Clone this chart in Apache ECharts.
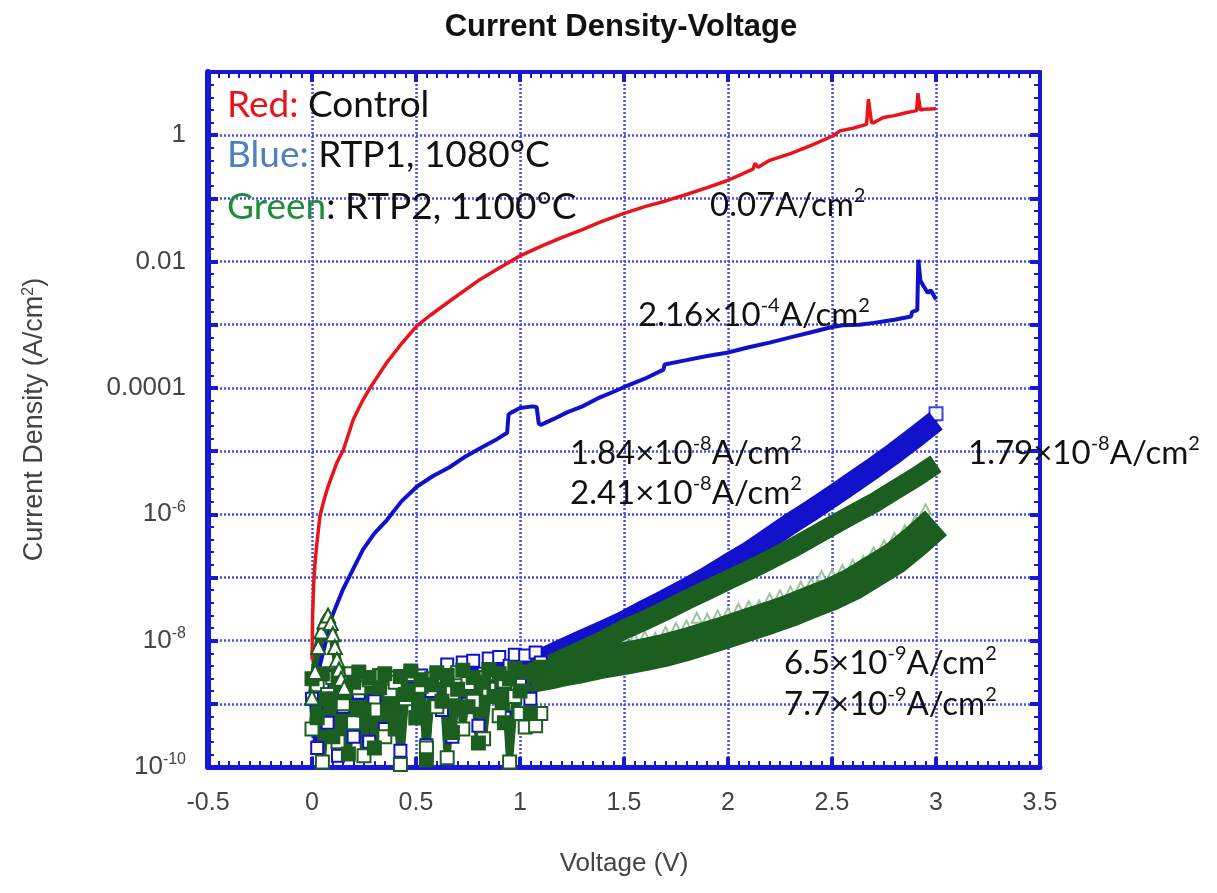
<!DOCTYPE html>
<html>
<head>
<meta charset="utf-8">
<script src="https://cdn.jsdelivr.net/npm/echarts@6/dist/echarts.min.js"></script>
<style>
  html, body { margin: 0; padding: 0; background: #ffffff; }
  #chart { width: 1217px; height: 893px; }
</style>
</head>
<body>
<div id="chart"></div>
<script>
// ---------- measured data (V in volts, J in A/cm^2) ----------

// Control sample, continuous trace
const controlV = [0, 0.003, 0.008, 0.014, 0.022, 0.038, 0.058, 0.078, 0.1, 0.119, 0.151, 0.199, 0.24, 0.279, 0.32, 0.359, 0.43, 0.503, 0.567, 0.679, 0.8, 0.9, 1.0, 1.1, 1.2, 1.3, 1.385, 1.5, 1.6, 1.7, 1.8, 1.9, 1.994, 2.07, 2.12, 2.13, 2.145, 2.2, 2.3, 2.4, 2.506, 2.538, 2.6, 2.666, 2.675, 2.68, 2.69, 2.7, 2.747, 2.8, 2.85, 2.907, 2.913, 2.918, 2.925, 2.94, 3.0];
const controlJ = [5.0e-9, 2.5e-8, 7.9e-8, 1.6e-7, 3.1e-7, 9.3e-7, 1.7e-6, 2.8e-6, 4.4e-6, 6.5e-6, 1.05e-5, 3.2e-5, 6.0e-5, 1.0e-4, 1.6e-4, 2.5e-4, 5.0e-4, 9.5e-4, 1.4e-3, 2.6e-3, 5.0e-3, 7.9e-3, 0.0123, 0.0174, 0.024, 0.032, 0.042, 0.058, 0.074, 0.091, 0.115, 0.148, 0.19, 0.245, 0.29, 0.36, 0.31, 0.40, 0.51, 0.69, 0.98, 1.17, 1.29, 1.48, 3.7, 3.8, 1.58, 1.58, 1.9, 2.04, 2.24, 2.45, 4.6, 4.8, 2.5, 2.57, 2.63];

// RTP1 (1080 °C), continuous trace
const rtp1LineV = [0.03, 0.06, 0.096, 0.149, 0.2, 0.245, 0.3, 0.36, 0.43, 0.505, 0.58, 0.663, 0.74, 0.822, 0.88, 0.938, 0.945, 0.96, 1.0, 1.06, 1.08, 1.09, 1.1, 1.16, 1.226, 1.3, 1.385, 1.45, 1.52, 1.6, 1.69, 1.695, 1.8, 1.9, 1.995, 2.1, 2.2, 2.3, 2.4, 2.495, 2.55, 2.63, 2.7, 2.8, 2.88, 2.885, 2.91, 2.915, 2.925, 2.94, 2.96, 2.975, 3.0];
const rtp1LineJ = [3.2e-9, 7.9e-9, 2.4e-8, 6.5e-8, 1.4e-7, 2.75e-7, 5.0e-7, 8.1e-7, 1.6e-6, 2.75e-6, 4.0e-6, 5.6e-6, 8.3e-6, 1.17e-5, 1.48e-5, 1.95e-5, 3.8e-5, 4.1e-5, 4.8e-5, 5.1e-5, 5.0e-5, 2.75e-5, 2.6e-5, 3.2e-5, 4.1e-5, 5.1e-5, 7.1e-5, 8.7e-5, 1.1e-4, 1.4e-4, 1.95e-4, 2.35e-4, 2.75e-4, 3.2e-4, 3.6e-4, 4.4e-4, 5.2e-4, 6.3e-4, 7.6e-4, 9.1e-4, 9.8e-4, 1.0e-3, 1.07e-3, 1.2e-3, 1.35e-3, 1.6e-3, 1.7e-3, 1.07e-2, 5.0e-3, 4.1e-3, 3.2e-3, 3.5e-3, 2.5e-3];

// Low-bias sweep voltages (noise floor region)
const lowV = [0, 0.025, 0.05, 0.075, 0.1, 0.125, 0.15, 0.175, 0.2, 0.225, 0.25, 0.275, 0.3, 0.325, 0.35, 0.375, 0.4, 0.425, 0.45, 0.475, 0.5, 0.525, 0.55, 0.575, 0.6, 0.625, 0.65, 0.675, 0.7, 0.725, 0.75, 0.775, 0.8, 0.825, 0.85, 0.875, 0.9, 0.925, 0.95, 0.975, 1.0, 1.025, 1.05, 1.075, 1.1];
const rtp1LowJ = [1.2e-9, 2e-10, 2.0e-9, 5e-10, 2.8e-9, 1.5e-10, 9e-10, 2.2e-9, 3e-10, 1.5e-9, 2.6e-9, 2.5e-10, 1.1e-9, 2.5e-9, 4e-10, 1.8e-9, 2.6e-9, 1.8e-10, 1.4e-9, 2.7e-9, 6e-10, 2.8e-9, 2.2e-10, 1.6e-9, 3.0e-9, 8e-10, 4.2e-9, 3e-10, 2.4e-9, 4.5e-9, 1.0e-9, 4.8e-9, 4.5e-10, 3.0e-9, 5.2e-9, 1.4e-9, 5.5e-9, 6e-10, 4.0e-9, 6.0e-9, 2.0e-9, 5.8e-9, 1.2e-9, 6.5e-9, 4.5e-9];
const rtp2aLowJ = [2.5e-9, 6e-10, 3.0e-9, 1.2e-9, 3e-10, 2.8e-9, 1.5e-9, 1.6e-10, 2.2e-9, 3.2e-9, 8e-10, 2.6e-9, 2e-10, 1.8e-9, 3.0e-9, 1.0e-9, 4e-10, 2.7e-9, 1.4e-9, 3.3e-9, 6e-10, 2.4e-9, 1.3e-10, 2.0e-9, 3.1e-9, 1.1e-9, 2.8e-9, 3.5e-10, 1.7e-9, 3.4e-9, 9e-10, 2.6e-9, 2.4e-10, 2.2e-9, 3.5e-9, 1.3e-9, 3.0e-9, 5e-10, 2.5e-9, 3.6e-9, 1.6e-9, 3.2e-9, 7e-10, 2.8e-9, 3.8e-9];
const rtp2bLowJ = [4e-10, 2.0e-9, 1.2e-10, 1.4e-9, 2.6e-9, 2.5e-10, 1.0e-9, 3.0e-9, 5e-10, 1.8e-9, 1.5e-10, 2.4e-9, 8e-10, 2.8e-9, 3e-10, 1.6e-9, 2.2e-9, 1.1e-10, 1.2e-9, 2.9e-9, 6e-10, 1.9e-9, 2e-10, 2.5e-9, 9e-10, 2.7e-9, 1.4e-10, 1.5e-9, 3.1e-9, 4e-10, 2.1e-9, 1.1e-9, 2.6e-9, 2.8e-10, 1.7e-9, 3.0e-9, 6.5e-10, 2.3e-9, 1.2e-10, 1.3e-9, 7e-10, 4.3e-10, 7.2e-10, 4.5e-10, 7e-10];

// Sweeps above the noise floor
const highV = [1.05, 1.1, 1.2, 1.3, 1.4, 1.5, 1.6, 1.7, 1.8, 1.9, 2.0, 2.1, 2.2, 2.3, 2.4, 2.5, 2.6, 2.7, 2.8, 2.9, 3.0];
const rtp1HighJ = [4.0e-9, 5.0e-9, 7.1e-9, 1.0e-8, 1.4e-8, 2.0e-8, 3.0e-8, 4.4e-8, 6.6e-8, 1.0e-7, 1.6e-7, 2.5e-7, 4.2e-7, 7.1e-7, 1.15e-6, 1.9e-6, 3.2e-6, 5.4e-6, 9.3e-6, 1.66e-5, 3.0e-5];
const rtp2aHighJ = [2.9e-9, 3.5e-9, 5.0e-9, 7.1e-9, 1.0e-8, 1.5e-8, 2.1e-8, 3.0e-8, 4.4e-8, 6.3e-8, 9.1e-8, 1.3e-7, 1.9e-7, 2.8e-7, 4.3e-7, 6.6e-7, 1.0e-6, 1.5e-6, 2.4e-6, 3.8e-6, 6.3e-6];
const rtp2bHighV = [1.05, 1.15, 1.2, 1.3, 1.4, 1.5, 1.6, 1.7, 1.8, 1.9, 2.0, 2.1, 2.2, 2.3, 2.4, 2.5, 2.6, 2.7, 2.8, 2.9, 3.0];
const rtp2bHighJ = [2.7e-9, 3.1e-9, 3.4e-9, 3.9e-9, 4.6e-9, 5.2e-9, 6.0e-9, 7.1e-9, 8.7e-9, 1.1e-8, 1.4e-8, 1.8e-8, 2.3e-8, 3.0e-8, 4.1e-8, 5.5e-8, 7.9e-8, 1.26e-7, 2.0e-7, 3.7e-7, 7.3e-7];
// end point of the RTP1 sweep (upper edge at 3 V)
const rtp1EndV = [3.0];
const rtp1EndJ = [3.9e-5];

// RTP2 repeat-sweep points along the upper edge of the lower band
const rtp2cV = [1.5, 1.55, 1.6, 1.65, 1.7, 1.75, 1.8, 1.85, 1.9, 1.95, 2.0, 2.05, 2.1, 2.15, 2.2, 2.25, 2.3, 2.35, 2.4, 2.45, 2.5, 2.55, 2.6, 2.65, 2.7, 2.75, 2.8, 2.85, 2.9, 2.95];
const rtp2cJ = [1.05e-8, 1.1e-8, 1.17e-8, 1.1e-8, 1.38e-8, 1.58e-8, 1.74e-8, 2.3e-8, 2.2e-8, 2.5e-8, 2.75e-8, 3.2e-8, 3.5e-8, 3.6e-8, 4.6e-8, 5.2e-8, 6.0e-8, 7.1e-8, 8.1e-8, 1.05e-7, 1.12e-7, 1.32e-7, 1.58e-7, 1.8e-7, 2.5e-7, 3.2e-7, 4.2e-7, 5.6e-7, 7.9e-7, 1.2e-6];

// RTP2 first points near zero bias (triangle markers)
const rtp2StartV = [0.0, 0.015, 0.03, 0.045, 0.06, 0.077, 0.09, 0.1, 0.11, 0.12, 0.13, 0.14, 0.155];
const rtp2StartJ = [1.26e-9, 3.2e-9, 7.9e-9, 1.4e-8, 2.0e-8, 2.5e-8, 1.9e-8, 1.26e-8, 7.9e-9, 5.0e-9, 3.5e-9, 2.5e-9, 1.8e-9];

// Axis ticks
const yLabelExp = [0, -2, -4, -6, -8, -10];
const yLabelPlain = ['1', '0.01', '0.0001', '', '', ''];

// ---------- styling ----------
const frameBlue = '#1818d8';
const gridDot = '#4b4be6';
const red = '#e8141b';
const blue = '#1111cc';
const green = '#1b5e1f';
const lightGreen = '#86b486';
const axisFont = 'Liberation Sans, Arial, sans-serif';
const noteFont = 'Lato, Carlito, sans-serif';
const axisGray = '#444444';

const pts = (v, j) => v.map((x, i) => [x, Math.log10(j[i])]);

function yLabel(val) {
  const k = yLabelExp.indexOf(Math.round(val));
  if (k < 0 || Math.abs(val - Math.round(val)) > 1e-6) return '';
  return yLabelPlain[k] !== '' ? yLabelPlain[k] : '{b|10}{s|' + yLabelExp[k] + '}';
}

const noteRich = {
  n: { fontFamily: noteFont, fontWeight: 'normal', fontSize: 33, color: '#111', lineHeight: 38 },
  s: { fontFamily: noteFont, fontWeight: 'normal', fontSize: 20, color: '#111', lineHeight: 20, verticalAlign: 'top' }
};
const legendRich = (c) => ({
  c: { fontFamily: noteFont, fontWeight: 'normal', fontSize: 37, color: c, lineHeight: 42 },
  k: { fontFamily: noteFont, fontWeight: 'normal', fontSize: 37, color: '#111', lineHeight: 42 }
});
const note = (txt, left, top) => ({ text: txt, left, top, padding: 0, textStyle: { fontWeight: 'normal', rich: noteRich } });
const legendLine = (txt, c, top) => ({ text: txt, left: 227, top, padding: 0, textStyle: { fontWeight: 'normal', rich: legendRich(c) } });

const frameAxisX = (pos) => ({
  type: 'value', position: pos, min: -0.5, max: 3.5, interval: 0.5,
  axisLine: { show: true, onZero: false, lineStyle: { color: frameBlue, width: pos === 'bottom' ? 5 : 4 } },
  axisTick: { show: true, inside: true, length: 10, lineStyle: { color: frameBlue, width: 4 } },
  minorTick: { show: true, splitNumber: 10, length: 6, lineStyle: { color: frameBlue, width: 2 } },
  splitLine: { show: false }, axisLabel: { show: false }
});
const frameAxisY = (pos) => ({
  type: 'value', position: pos, min: -10, max: 1, interval: 1,
  axisLine: { show: true, onZero: false, lineStyle: { color: frameBlue, width: pos === 'left' ? 6 : 4 } },
  axisTick: { show: true, inside: true, length: 10, lineStyle: { color: frameBlue, width: 4 } },
  minorTick: { show: true, splitNumber: 5, length: 6, lineStyle: { color: frameBlue, width: 2 } },
  splitLine: { show: false }, axisLabel: { show: false }
});

const xMain = Object.assign(frameAxisX('bottom'), {
  splitLine: { show: true, lineStyle: { color: gridDot, width: 2.5, type: [2, 2] } },
  axisLabel: { show: true, margin: 24, fontFamily: axisFont, fontSize: 25, color: axisGray },
  name: 'Voltage (V)', nameLocation: 'middle', nameGap: 84,
  nameTextStyle: { fontFamily: axisFont, fontSize: 26, color: axisGray }
});
const yMain = Object.assign(frameAxisY('left'), {
  splitLine: { show: true, lineStyle: { color: gridDot, width: 2.5, type: [2, 2] } },
  axisLabel: {
    show: true, margin: 22, fontFamily: axisFont, fontSize: 26, color: axisGray,
    formatter: yLabel,
    rich: {
      b: { fontFamily: axisFont, fontSize: 26, color: axisGray, lineHeight: 30 },
      s: { fontFamily: axisFont, fontSize: 16, color: axisGray, lineHeight: 17, verticalAlign: 'top' }
    }
  },
  name: 'Current Density (A/cm{s|2})', nameLocation: 'middle', nameGap: 160,
  nameTextStyle: {
    fontFamily: axisFont, fontSize: 27, color: axisGray,
    rich: { s: { fontFamily: axisFont, fontSize: 16, color: axisGray, verticalAlign: 'top', lineHeight: 16 } }
  }
});

const noiseSeries = (name, j, color, symbol, size) => ({
  name, type: 'line', data: pts(lowV, j),
  symbol, symbolSize: size, showAllSymbol: true,
  lineStyle: { color, width: 7 },
  itemStyle: { color, borderColor: color, borderWidth: 3 }
});
const bandSeries = (name, v, j, color, width) => ({
  name, type: 'line', data: pts(v, j),
  symbol: 'none',
  lineStyle: { color, width, cap: 'butt', join: 'round' }
});

const option = {
  animation: false,
  backgroundColor: '#ffffff',
  title: [
    { text: 'Current Density-Voltage', left: 621, top: 12, textAlign: 'center', padding: 0,
      textStyle: { fontFamily: axisFont, fontWeight: 'bold', fontSize: 31, color: '#111' } },
    legendLine('{c|Red:}{k| Control}', red, 84),
    legendLine('{c|Blue:}{k| RTP1, 1080°C}', '#4f81bd', 134),
    legendLine('{c|Green}{k|: RTP2, 1100°C}', '#1f8c3b', 186),
    note('{n|0.07A/cm}{s|2}', 710, 186),
    note('{n|2.16×10}{s|-4}{n|A/cm}{s|2}', 638, 296),
    note('{n|1.84×10}{s|-8}{n|A/cm}{s|2}', 570, 434),
    note('{n|2.41×10}{s|-8}{n|A/cm}{s|2}', 570, 474),
    note('{n|1.79×10}{s|-8}{n|A/cm}{s|2}', 968, 434),
    note('{n|6.5×10}{s|-9}{n|A/cm}{s|2}', 784, 644),
    note('{n|7.7×10}{s|-9}{n|A/cm}{s|2}', 784, 685)
  ],
  grid: { left: 208, right: 177, top: 72, bottom: 126, containLabel: false },
  xAxis: [xMain, frameAxisX('top')],
  yAxis: [yMain, frameAxisY('right')],
  series: [
    noiseSeries('RTP1 low bias', rtp1LowJ, blue, 'emptyRect', 12),
    noiseSeries('RTP2 sweep B low bias', rtp2bLowJ, green, 'emptyRect', 13),
    noiseSeries('RTP2 sweep A low bias', rtp2aLowJ, green, 'rect', 12),
    bandSeries('RTP1 sweep', highV, rtp1HighJ, blue, 22),
    {
      name: 'RTP1 sweep end', type: 'scatter', data: pts(rtp1EndV, rtp1EndJ),
      symbol: 'emptyRect', symbolSize: 13,
      itemStyle: { color: blue, borderColor: blue, borderWidth: 3 }
    },
    bandSeries('RTP2 sweep A', highV, rtp2aHighJ, green, 20),
    bandSeries('RTP2 sweep B', rtp2bHighV, rtp2bHighJ, green, 33),
    {
      name: 'RTP2 repeat', type: 'scatter', data: pts(rtp2cV, rtp2cJ),
      symbol: 'emptyTriangle', symbolSize: 10,
      itemStyle: { color: lightGreen, borderColor: lightGreen, borderWidth: 2 }
    },
    {
      name: 'RTP2 start', type: 'line', data: pts(rtp2StartV, rtp2StartJ),
      symbol: 'emptyTriangle', symbolSize: 14, showAllSymbol: true,
      lineStyle: { color: green, width: 9 },
      itemStyle: { color: green, borderColor: green, borderWidth: 3 }
    },
    {
      name: 'RTP1', type: 'line', data: pts(rtp1LineV, rtp1LineJ),
      symbol: 'none', lineStyle: { color: blue, width: 4 }
    },
    {
      name: 'Control', type: 'line', data: pts(controlV, controlJ),
      symbol: 'none', lineStyle: { color: red, width: 3.5 }
    }
  ]
};

const chart = echarts.init(document.getElementById('chart'), null, { renderer: 'canvas' });
chart.setOption(option);
</script>
</body>
</html>
